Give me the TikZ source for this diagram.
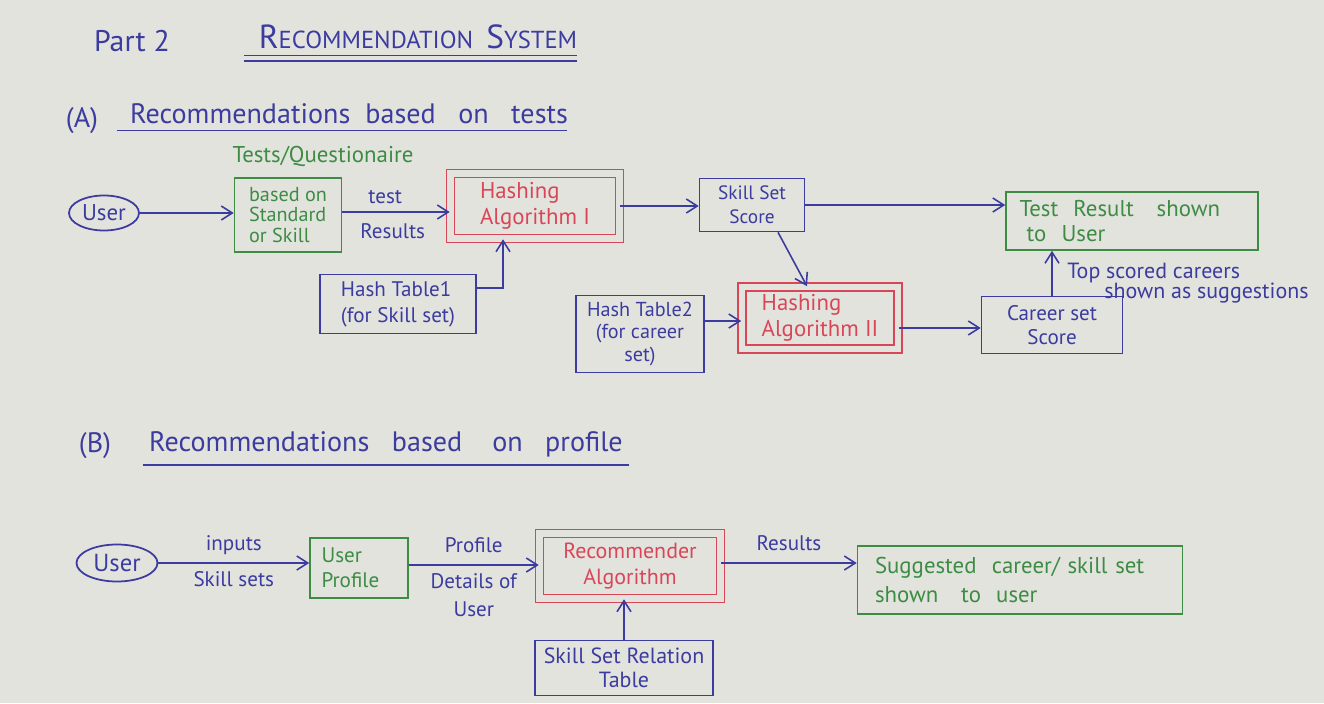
\documentclass[tikz,border=0pt]{standalone}
\usepackage{fontspec}
\setmainfont{PT Sans}
\usetikzlibrary{arrows.meta,positioning,shapes.geometric,calc}
\definecolor{paper}{HTML}{E3E3DE}
\definecolor{ink}{HTML}{3B3BA0}
\definecolor{inkgreen}{HTML}{3C8C44}
\definecolor{inkred}{HTML}{D94658}

\begin{document}
\begin{tikzpicture}[
  x=0.02cm, y=-0.02cm,
  font=\fontsize{12}{14}\selectfont, >={Straight Barb[length=2.2mm,width=2.8mm]},
  every node/.append style={text=ink},
  box/.style={draw=ink, line width=0.9pt, align=center, inner sep=1pt},
  gbox/.style={draw=inkgreen, line width=0.9pt, text=inkgreen, align=left, inner sep=1pt},
  algo/.style={draw=inkred, double=paper, double distance=3.5pt, line width=0.9pt, text=inkred, align=left, inner sep=1pt, font=\fontsize{13}{15}\selectfont},
  actor/.style={draw=ink, line width=1pt, ellipse, inner sep=0pt},
  head/.style={font=\fontsize{16}{18}\selectfont},
  flow/.style={->, draw=ink, line width=0.9pt},
]
\path[use as bounding box, fill=paper] (0,0) rectangle (1324,703);

% Title
\node[font=\fontsize{17}{18}\selectfont] (part) at (132,41) {Part 2};
\node[font=\fontsize{14}{18}\selectfont, inner sep=0pt] (title) at (418,37)
  {{\fontsize{19}{20}\selectfont R}ECOMMENDATION\ \ {\fontsize{19}{20}\selectfont S}YSTEM};
\draw[ink, line width=0.9pt] ([xshift=-8pt, yshift=-3.5pt]title.south west) -- ([yshift=-3.5pt]title.south east);
\draw[ink, line width=0.9pt] ([xshift=-8pt, yshift=-6.5pt]title.south west) -- ([yshift=-6.5pt]title.south east);

% Part A
\node[head] (secA) at (82,121) {(A)};
\node[head, anchor=west] (headA) at (124,114) {Recommendations\ \ based\ \ \ on\ \ \ tests};
\draw[ink, line width=0.9pt] ([xshift=-4pt]headA.south west) -- ([xshift=-4pt]headA.south east);

\node[actor, minimum width=1.4cm, minimum height=0.7cm, font=\fontsize{13}{15}\selectfont] (user1) at (104,213) {User};
\node[gbox, minimum width=2.14cm, minimum height=1.48cm, font=\fontsize{11.5}{11.8}\selectfont] (quest) at (288,215)
  {based on\\Standard\\or Skill};
\node[text=inkgreen, font=\fontsize{13}{15}\selectfont] (qlabel) at (323,156) {Tests/Questionaire};
\node[algo, minimum width=3.38cm, minimum height=1.3cm] (hash1) at (535,206)
  {Hashing\\Algorithm I};
\node[box, minimum width=3.12cm, minimum height=1.18cm, align=left, font=\fontsize{12}{15}\selectfont] (ht1) at (398,304)
  {Hash Table1\\(for Skill set)};
\node[box, minimum width=2.1cm, minimum height=1.06cm, font=\fontsize{11}{13.5}\selectfont] (sss) at (752,205)
  {Skill Set\\Score};
\node[gbox, minimum width=5.04cm, minimum height=1.16cm, text width=4.5cm, font=\fontsize{13}{14.5}\selectfont] (trs) at (1132,221)
  {Test\ \ Result\ \ \ shown\\\hspace*{4pt}to\ \ User};
\node[box, minimum width=2.56cm, minimum height=1.54cm, font=\fontsize{11.5}{12.8}\selectfont] (ht2) at (640,334)
  {Hash Table2\\(for career\\set)};
\node[algo, minimum width=3.12cm, minimum height=1.24cm] (hash2) at (820,318)
  {Hashing\\Algorithm II};
\node[box, minimum width=2.82cm, minimum height=1.14cm] (css) at (1052,325)
  {Career set\\Score};
\node[anchor=west, align=left, inner sep=0pt, font=\fontsize{12.5}{11.5}\selectfont] (note) at (1067,283)
  {Top scored careers\\\hspace*{0.74cm}shown as suggestions};

\draw[flow] (user1.east) -- (user1.east -| quest.west);
\draw[flow] ([yshift=0.06cm]quest.east) -- ([yshift=0.06cm]quest.east -| hash1.west)
  node[pos=0.4, above=1pt] {test} node[pos=0.47, below=3pt] {Results};
\draw[flow] ([yshift=0.32cm]ht1.east) -| ([xshift=-0.64cm]hash1.south);
\draw[flow] (hash1.east) -- (hash1.east -| sss.west);
\draw[flow] (sss.east) -- (sss.east -| trs.west);
\draw[flow] ([xshift=0.52cm]sss.south) -- ([xshift=-0.26cm]hash2.north);
\draw[flow] ([yshift=0.26cm]ht2.east) -- ([yshift=0.26cm]ht2.east -| hash2.west);
\draw[flow] ([yshift=-0.2cm]hash2.east) -- ([yshift=-0.2cm]hash2.east -| css.west);
\draw[flow] (css.north) -- (css.north |- trs.south);

% Part B
\node[head] (secB) at (95,446) {(B)};
\node[head, anchor=west] (headB) at (143,444) {Recommendations\ \ \ based\ \ \ \ on\ \ \ profile};
\draw[ink, line width=0.9pt] ([yshift=-1pt]headB.south west) -- ([yshift=-1pt]headB.south east);

\node[actor, minimum width=1.62cm, minimum height=0.74cm, font=\fontsize{14}{16}\selectfont] (user2) at (117,563) {User};
\node[gbox, minimum width=1.96cm, minimum height=1.2cm, text width=1.5cm] (prof) at (359,568)
  {User\\Profile};
\node[algo, minimum width=3.62cm, minimum height=1.3cm, align=center, font=\fontsize{12.5}{15}\selectfont] (rec) at (630,566)
  {Recommender\\Algorithm};
\node[box, minimum width=3.56cm, minimum height=1.1cm, font=\fontsize{12.5}{14}\selectfont] (ssrt) at (624,668)
  {Skill Set Relation\\Table};
\node[gbox, minimum width=6.5cm, minimum height=1.36cm, text width=5.8cm, font=\fontsize{13}{16}\selectfont] (sug) at (1020,580)
  {Suggested\ \ career/ skill set\\shown\ \ \ to\ \ user};

\draw[flow] (user2.east) -- (user2.east -| prof.west)
  node[midway, above=1pt] {inputs} node[midway, below=1pt] {Skill sets};
\draw[flow] ([yshift=0.06cm]prof.east) -- ([yshift=0.06cm]prof.east -| rec.west)
  node[midway, above=3pt] {Profile} node[midway, below=1pt, align=center, font=\fontsize{12}{16}\selectfont] {Details of\\User};
\draw[flow] ([yshift=0.06cm]rec.east) -- ([yshift=0.06cm]rec.east -| sug.west)
  node[midway, above=3pt] {Results};
\draw[flow] (ssrt.north) -- (ssrt.north |- rec.south);

\end{tikzpicture}
\end{document}
